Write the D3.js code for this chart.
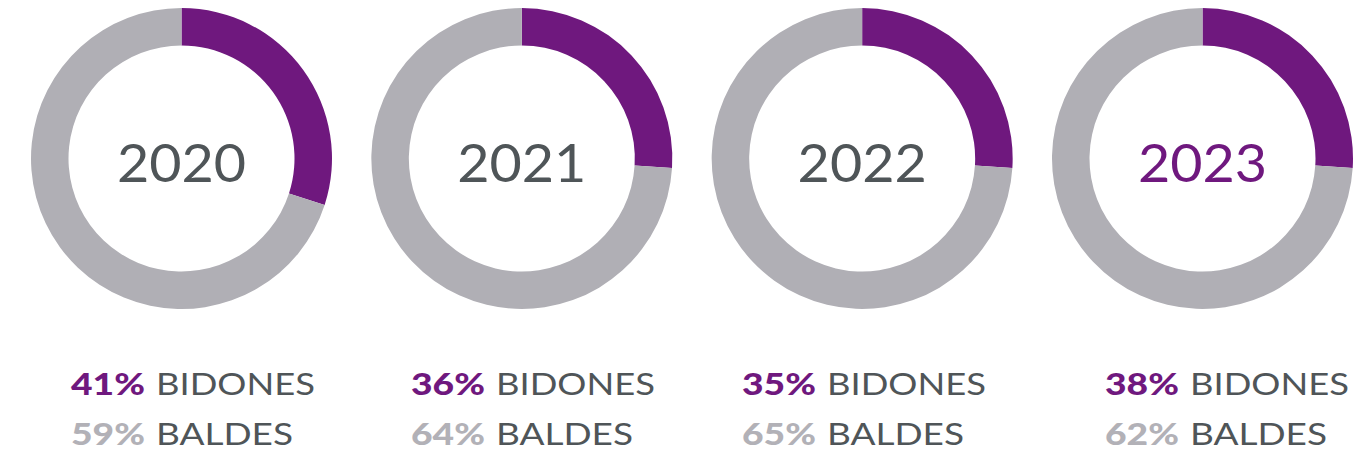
<!DOCTYPE html>
<html>
<head>
<meta charset="utf-8">
<script src="https://cdn.jsdelivr.net/npm/d3@7"></script>
<style>
  html, body { margin: 0; padding: 0; background: #fff; }
  svg { display: block; }
</style>
</head>
<body>
<svg id="chart" width="1364" height="458"></svg>
<script>
const years = ['2020', '2021', '2022', '2023'];
const arcShare = [30, 26, 26, 26];        // purple arc share as drawn in the ring
const bidones = [41, 36, 35, 38];         // printed label values
const baldes = [59, 64, 65, 62];
const seriesNames = ['BIDONES', 'BALDES'];
const highlightYear = '2023';

// layout
const W = 1364, H = 458;
const cy = 158.5, rOuter = 150.5, rInner = 113;
const labelStart = [71, 411, 742, 1105];  // left edge of each label block
const wordGap = 85;

const purple = '#6f187e', grey = '#b0afb5', ink = '#4f5558', greyText = '#b2b1b7';
const font = 'Lato, "Open Sans", sans-serif';

const svg = d3.select('#chart');

const x = d3.scalePoint().domain(years).range([181.5, 1202.5]);

const pie = d3.pie().sort(null).value(d => d);
const arc = d3.arc().innerRadius(rInner).outerRadius(rOuter);

years.forEach((yr, i) => {
  const g = svg.append('g').attr('transform', `translate(${x(yr)},${cy})`);
  const slices = pie([arcShare[i], 100 - arcShare[i]]);
  g.selectAll('path').data(slices).join('path')
    .attr('d', arc)
    .attr('fill', (d, j) => j === 0 ? purple : grey);

  const yt = g.append('text')
    .attr('text-anchor', 'middle')
    .attr('y', 23.5)
    .attr('fill', yr === highlightYear ? purple : ink)
    .style('font-family', font)
    .style('font-size', '53px')
    .style('font-weight', 400)
    .text(yr);
  yt.attr('textLength', yt.node().getComputedTextLength() * 1.05)
    .attr('lengthAdjust', 'spacingAndGlyphs');

  const rows = [
    { pct: bidones[i], name: seriesNames[0], color: purple, y: 395, wl: 159 },
    { pct: baldes[i], name: seriesNames[1], color: greyText, y: 445, wl: 137 }
  ];
  const lg = svg.append('g');
  rows.forEach(r => {
    const t = lg.append('text')
      .attr('x', labelStart[i])
      .attr('y', r.y)
      .attr('fill', r.color)
      .style('font-family', font)
      .style('font-size', '31px')
      .style('font-weight', 900)
      .text(r.pct + '%');
    // the original face is wider than Lato, stretch a little
    t.attr('textLength', t.node().getComputedTextLength() * 1.2)
      .attr('lengthAdjust', 'spacingAndGlyphs');
    lg.append('text')
      .attr('x', labelStart[i] + wordGap)
      .attr('y', r.y)
      .attr('fill', ink)
      .attr('textLength', r.wl)
      .attr('lengthAdjust', 'spacingAndGlyphs')
      .style('font-family', font)
      .style('font-size', '31px')
      .style('font-weight', 400)
      .text(r.name);
  });
});
</script>
</body>
</html>
